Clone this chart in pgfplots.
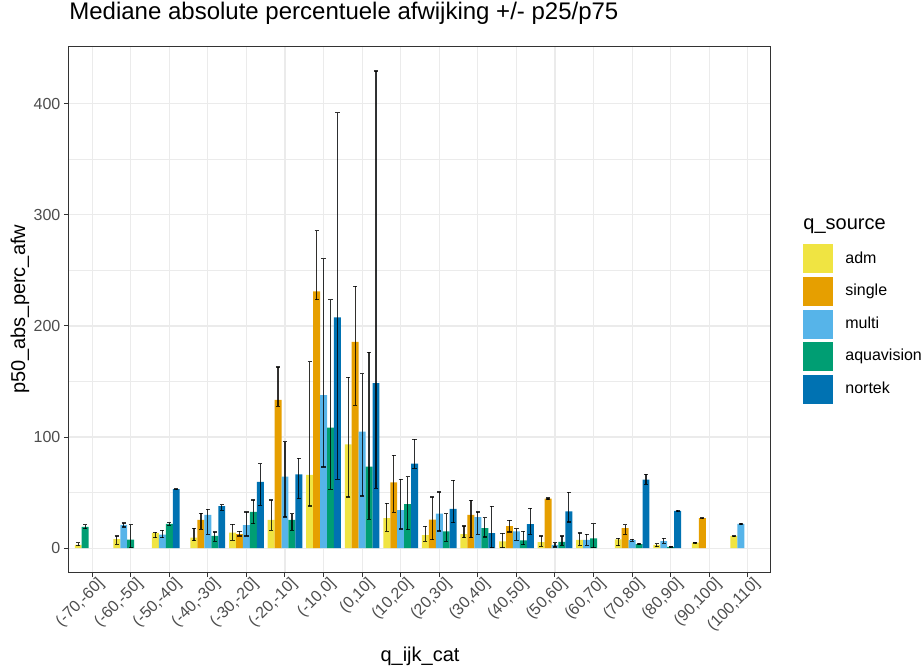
\documentclass[border=0pt]{standalone}
\usepackage{pgfplots}
\usepackage{pgfplotstable}
\usepackage{fontspec}
\setmainfont{Liberation Sans}
\pgfplotsset{compat=1.18}
\definecolor{cadm}{HTML}{F0E442}
\definecolor{csingle}{HTML}{E69F00}
\definecolor{cmulti}{HTML}{56B4E9}
\definecolor{caqua}{HTML}{009E73}
\definecolor{cnortek}{HTML}{0072B2}
\definecolor{gridc}{HTML}{EBEBEB}
\definecolor{framec}{HTML}{333333}
\definecolor{tickc}{HTML}{4D4D4D}

% x = category index (1..18) + dodge slot offset; y = p50; lo = p25; hi = p75
\pgfplotstableread{
x y lo hi
0.64 3 2 5
1.64 8 3.6 11
2.64 13.7 9.5 14.4
3.64 9.5 6.6 18
4.64 14 7 21.5
5.64 25.4 16 43.4
6.64 65.9 38 167.7
7.64 93.4 46 153.9
8.64 27 15.3 40.4
9.64 11.7 6 19.8
10.64 12.5 9.5 20
11.64 6 0.5 13.5
12.64 5.4 1.5 11
13.64 7.5 2.7 13.6
14.64 7.8 2 9
15.64 3 1.2 4
16.64 5 4.6 5.3
17.64 11 10.6 11.3
}\tadm
\pgfplotstableread{
x y lo hi
3.82 25.4 17 31.4
4.82 12.6 11 15
5.82 133.5 127.6 163
6.82 231.2 223.7 285.7
7.82 185.6 128.5 235.7
8.82 59.2 32.4 83.6
9.82 25.7 7.5 46
10.82 30 9.5 43
11.82 19.8 14.6 25
12.82 44.6 44 45.2
14.82 18 12.6 21.2
16.82 27 26.6 27.4
}\tsingle
\pgfplotstableread{
x y lo hi
1.82 21 19 22.7
2.82 12.2 9.5 16
4 30 12.6 35
5 20.6 11 32.6
6 64.4 28 95.8
7 137.7 73 260.5
8 104.8 47 157.2
9 34.1 17.3 61.8
10 31 15.5 50.6
11 28 12.5 32.6
12 15 7 17.6
13 3 1 5
13.82 7.5 2.7 12.6
15 7.2 6 8
15.82 6.3 4.5 8.7
17.82 21.8 21.4 22.2
}\tmulti
\pgfplotstableread{
x y lo hi
0.82 19.1 17.6 21
2 7.7 0.5 21
3 21.8 20.5 23
4.18 11 6 14.6
5.18 32.6 22 43.4
6.18 25.4 15.9 30.9
7.18 108.4 53 223.7
8.18 73.3 26 176.4
9.18 39.5 16.5 64.2
10.18 15 6 31
11.18 18 10 27.5
12.18 7 3 15
13.18 5.6 2.7 11
14 8.8 0.5 22
15.18 3.6 3 4.2
16 1.2 1 1.4
}\taqua
\pgfplotstableread{
x y lo hi
3.18 53 52.6 53.6
4.36 37.7 34 39
5.36 59.6 38.6 76
6.36 66.5 44.6 80.9
7.36 207.8 62 392
8.36 148.5 54 429.5
9.36 76 71.8 97.8
10.36 35.3 23 61
11.36 13.5 0.5 37.7
12.36 21.5 12.5 36
13.36 33 23.5 50.3
15.36 61.6 57.5 66.5
16.18 33.5 33 34
}\tnortek

\begin{document}
\begin{tikzpicture}
\begin{axis}[
  scale only axis, width=351pt, height=262.7pt,
  xmin=0.4, xmax=18.6, ymin=-21.5, ymax=451.5,
  ybar, bar width=0.18, bar shift=0pt,
  xtick={1,...,18},
  xticklabels={{(-70,-60]},{(-60,-50]},{(-50,-40]},{(-40,-30]},{(-30,-20]},{(-20,-10]},{(-10,0]},{(0,10]},{(10,20]},{(20,30]},{(30,40]},{(40,50]},{(50,60]},{(60,70]},{(70,80]},{(80,90]},{(90,100]},{(100,110]}},
  ytick={0,100,200,300,400},
  minor ytick={50,150,250,350},
  grid=both,
  major grid style={draw=gridc, line width=0.55pt},
  minor grid style={draw=gridc, line width=0.3pt},
  tick pos=left, tick align=outside,
  major tick length=2.6pt, minor tick length=0pt,
  tick style={draw=framec, line width=0.5pt},
  axis line style={draw=framec, line width=0.5pt},
  /pgf/number format/assume math mode=true,
  ticklabel style={font=\fontsize{8}{9.6}\selectfont, text=tickc},
  yticklabel style={inner sep=1.5pt},
  xticklabel style={rotate=45, anchor=north east, inner sep=1pt, xshift=3pt},
  title={Mediane absolute percentuele afwijking +/- p25/p75},
  title style={at={(0,1)}, anchor=base west, yshift=7.5pt, inner sep=0pt, font=\fontsize{12}{14}\selectfont},
  ylabel={p50\_abs\_perc\_afw},
  ylabel style={at={(axis description cs:0,0.5)}, anchor=center, yshift=24.5pt, font=\fontsize{10}{12}\selectfont},
  xlabel={q\_ijk\_cat},
  xlabel style={at={(axis description cs:0.5,0)}, anchor=base, yshift=-44.5pt, font=\fontsize{10}{12}\selectfont},
  legend style={at={(1,1)}, anchor=north west, xshift=16pt, yshift=-98.65pt,
    draw=none, fill=none, inner sep=0pt, row sep=1.8pt,
    font=\fontsize{8}{9.6}\selectfont, legend cell align=left,
    /tikz/every odd column/.append style={column sep=4pt}},
  legend image code/.code={\fill[#1] (0pt,-7.25pt) rectangle (15pt,7.25pt);},
  error bars/y dir=both, error bars/y explicit,
  error bars/error mark=-,
  error bars/error bar style={draw=black, draw opacity=0.8, line width=0.6pt},
  error bars/error mark options={rotate=90, draw=black, draw opacity=0.8, line width=0.6pt, mark size=1.05pt},
]
\addplot[fill=cadm, draw=none] table[x=x, y=y, y error plus expr=\thisrow{hi}-\thisrow{y}, y error minus expr=\thisrow{y}-\thisrow{lo}] {\tadm};
\addlegendentry{adm}
\addplot[fill=csingle, draw=none] table[x=x, y=y, y error plus expr=\thisrow{hi}-\thisrow{y}, y error minus expr=\thisrow{y}-\thisrow{lo}] {\tsingle};
\addlegendentry{single}
\addplot[fill=cmulti, draw=none] table[x=x, y=y, y error plus expr=\thisrow{hi}-\thisrow{y}, y error minus expr=\thisrow{y}-\thisrow{lo}] {\tmulti};
\addlegendentry{multi}
\addplot[fill=caqua, draw=none] table[x=x, y=y, y error plus expr=\thisrow{hi}-\thisrow{y}, y error minus expr=\thisrow{y}-\thisrow{lo}] {\taqua};
\addlegendentry{aquavision}
\addplot[fill=cnortek, draw=none] table[x=x, y=y, y error plus expr=\thisrow{hi}-\thisrow{y}, y error minus expr=\thisrow{y}-\thisrow{lo}] {\tnortek};
\addlegendentry{nortek}
\end{axis}
\node[anchor=base west, inner sep=0pt, font=\fontsize{10}{12}\selectfont] at ([xshift=16pt,yshift=-91.4pt]current axis.north east) {q\_source};
\pgfresetboundingbox
\path ([xshift=-34.5pt,yshift=-46.5pt]current axis.south west) rectangle ([xshift=75.5pt,yshift=23.3pt]current axis.north east);
\end{tikzpicture}
\end{document}
